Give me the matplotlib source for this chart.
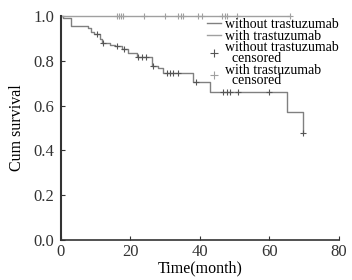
import numpy as np
import matplotlib
matplotlib.use("Agg")
import matplotlib.pyplot as plt

plt.rcParams["font.family"] = ["Liberation Serif", "DejaVu Serif"]

# without trastuzumab: event times (month) and survival after each event
event_t = [0.6, 2.9, 7.8, 8.8, 9.6, 11.2, 11.7, 14.1, 15.5, 17.5, 19.3, 21.8,
           26.1, 27.9, 29.3, 38.1, 42.9, 65.0, 69.7]
event_s = [0.99, 0.957, 0.945, 0.93, 0.918, 0.896, 0.88, 0.872, 0.864, 0.851,
           0.833, 0.818, 0.777, 0.766, 0.744, 0.707, 0.662, 0.57, 0.476]
cens_without = [10.3, 12.1, 16.1, 18.1, 22.2, 23.3, 24.5, 26.5, 30.5, 31.4,
                32.2, 33.7, 39.0, 46.6, 47.8, 48.6, 50.9, 59.9, 69.7]

# with trastuzumab: no events, follow-up end and censored times
with_end = 65.9
cens_with = [16.1, 16.7, 17.3, 17.9, 23.9, 29.9, 33.7, 34.5, 35.1, 39.4, 40.6,
             46.3, 47.2, 47.8, 50.6, 65.9]


def surv_at(t, times, surv):
    s = 1.0
    for ti, si in zip(times, surv):
        if ti <= t:
            s = si
    return s


fig = plt.figure(figsize=(3.52, 2.8), dpi=100)
ax = fig.add_axes([0.173, 0.143, 0.79, 0.8])

line_col = "#808080"
mark_col = "#555555"

st = [0.0] + event_t
ss = [1.0] + event_s
ax.step(st, ss, where="post", color=line_col, lw=1.0, clip_on=False)
ax.plot([0, with_end], [1.0, 1.0], color="#a0a0a0", lw=1.0, clip_on=False)

cw_y = [surv_at(t, event_t, event_s) for t in cens_without]
ax.plot(cens_without, cw_y, "+", color=mark_col, ms=4, mew=0.8, clip_on=False)
ax.plot(cens_with, [1.0] * len(cens_with), "+", color="#a0a0a0", ms=4, mew=0.8,
        clip_on=False)

ax.set_xlim(0, 80)
ax.set_ylim(0, 1.0)
ax.set_xticks([0, 20, 40, 60, 80])
ax.set_yticks([0.0, 0.2, 0.4, 0.6, 0.8, 1.0])
ax.set_yticklabels(["0.0", "0.2", "0.4", "0.6", "0.8", "1.0"])
for s in ["top", "right"]:
    ax.spines[s].set_visible(False)
ax.spines["left"].set_linewidth(1.5)
ax.spines["bottom"].set_linewidth(1.2)
ax.spines["left"].set_color("#333333")
ax.spines["bottom"].set_color("#333333")
ax.tick_params(direction="in", length=3, width=0.8, labelsize=12, pad=5,
               colors="#333333")
ax.tick_params(axis="x", pad=3)
ax.set_xlabel("Time(month)", fontsize=11.5, labelpad=0)
ax.set_ylabel("Cum survival", fontsize=11.5, labelpad=6)

h1, = ax.plot([], [], color=line_col, lw=1.0)
h2, = ax.plot([], [], color="#a0a0a0", lw=1.0)
h3, = ax.plot([], [], "+", color=mark_col, ms=6, mew=0.8)
h4, = ax.plot([], [], "+", color="#a0a0a0", ms=6, mew=0.8)
leg = ax.legend([h1, h2, h3, h4],
                ["without trastuzumab", "with trastuzumab",
                 "without trastuzumab\n  censored", "with trastuzumab\n  censored"],
                loc="upper left", bbox_to_anchor=(0.525, 0.99), frameon=False,
                fontsize=10, labelspacing=-0.1, handlelength=1.0,
                handletextpad=0.3, borderpad=0, borderaxespad=0)
for txt in leg.get_texts():
    txt.set_linespacing(0.75)

fig.savefig("out.png", dpi=100)
